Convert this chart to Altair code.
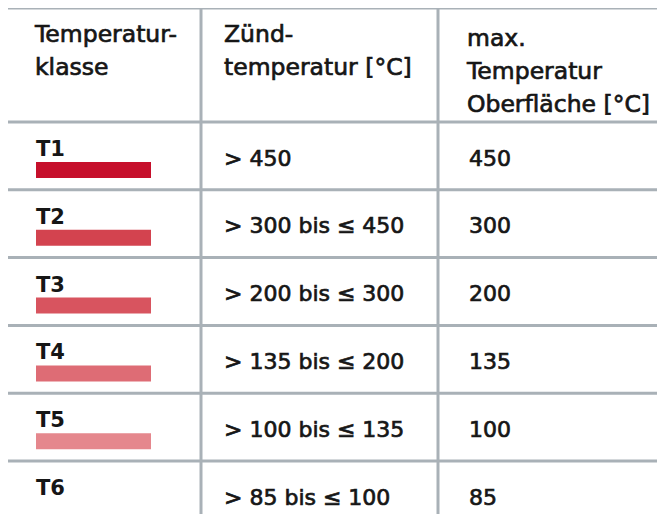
import altair as alt
import pandas as pd

# ---- table content ----
classes = ["T1", "T2", "T3", "T4", "T5", "T6"]
ignition = ["> 450", "> 300 bis ≤ 450", "> 200 bis ≤ 300", "> 135 bis ≤ 200",
            "> 100 bis ≤ 135", "> 85 bis ≤ 100"]
max_surface = ["450", "300", "200", "135", "100", "85"]
bar_colors = ["#c60f2b", "#d3434f", "#d8545f", "#de6c75", "#e5878d", None]

header_col1 = ["Temperatur-", "klasse"]
header_col2 = ["Zünd-", "temperatur [°C]"]
header_col3 = ["max.", "Temperatur", "Oberfläche [°C]"]

# ---- layout (pixel positions in page coordinates) ----
W, H = 649, 506
LINE_COLOR = "#a9b1b7"
TEXT_COLOR = "#161616"
FONT = "DejaVu Sans"
top_y = 8
header_bottom = 122
row_h = 67.8
col_left = [36, 224, 469]
v_lines = [201, 438]

row_tops = [header_bottom + i * row_h for i in range(len(classes))]

xs = alt.Scale(domain=[8, 8 + W], range=[0, W], nice=False, zero=False)
ys = alt.Scale(domain=[8, 8 + H], range=[0, H], nice=False, zero=False)

# grid lines
h_df = pd.DataFrame({"y": [top_y] + row_tops, "x": 8, "x2": 8 + W})
v_df = pd.DataFrame({"x": v_lines, "y": top_y, "y2": 8 + H})

h_rules = alt.Chart(h_df).mark_rule(color=LINE_COLOR, strokeWidth=3).encode(
    x=alt.X("x:Q", scale=xs, axis=None), x2="x2:Q",
    y=alt.Y("y:Q", scale=ys, axis=None))
v_rules = alt.Chart(v_df).mark_rule(color=LINE_COLOR, strokeWidth=3).encode(
    x=alt.X("x:Q", scale=xs, axis=None),
    y=alt.Y("y:Q", scale=ys, axis=None), y2="y2:Q")

# header text
hdr = []
for i, t in enumerate(header_col1):
    hdr.append({"text": t, "x": col_left[0] - 1, "y": 42 + 33 * i})
for i, t in enumerate(header_col2):
    hdr.append({"text": t, "x": col_left[1], "y": 42 + 33 * i})
for i, t in enumerate(header_col3):
    hdr.append({"text": t, "x": col_left[2] - 2, "y": 46 + 33 * i})
hdr_df = pd.DataFrame(hdr)
hdr_text = alt.Chart(hdr_df).mark_text(
    align="left", baseline="alphabetic", font=FONT, fontSize=23.5,
    color=TEXT_COLOR, stroke=TEXT_COLOR, strokeWidth=0.7).encode(
    x=alt.X("x:Q", scale=xs, axis=None),
    y=alt.Y("y:Q", scale=ys, axis=None), text="text:N")

# body
body = pd.DataFrame({
    "cls": classes, "ign": ignition, "mx": max_surface,
    "color": [c if c else "#ffffff" for c in bar_colors],
    "has_bar": [c is not None for c in bar_colors],
    "top": row_tops,
})
body["label_y"] = body["top"] + 34
body["val_y"] = body["top"] + 43.5
body["bar_y"] = body["top"] + 40
body["bar_y2"] = body["top"] + 56
body["lx"] = col_left[0]
body["bar_x2"] = 151
body["c2x"] = col_left[1]
body["c3x"] = col_left[2]

cls_text = alt.Chart(body).mark_text(
    align="left", baseline="alphabetic", font=FONT, fontSize=21,
    fontWeight="bold", color=TEXT_COLOR).encode(
    x=alt.X("lx:Q", scale=xs, axis=None),
    y=alt.Y("label_y:Q", scale=ys, axis=None), text="cls:N")

bars = alt.Chart(body).transform_filter("datum.has_bar").mark_rect().encode(
    x=alt.X("lx:Q", scale=xs, axis=None), x2="bar_x2:Q",
    y=alt.Y("bar_y:Q", scale=ys, axis=None), y2="bar_y2:Q",
    color=alt.Color("color:N", scale=None))

ign_text = alt.Chart(body).mark_text(
    align="left", baseline="alphabetic", font=FONT, fontSize=22,
    color=TEXT_COLOR, stroke=TEXT_COLOR, strokeWidth=0.7).encode(
    x=alt.X("c2x:Q", scale=xs, axis=None),
    y=alt.Y("val_y:Q", scale=ys, axis=None), text="ign:N")

mx_text = alt.Chart(body).mark_text(
    align="left", baseline="alphabetic", font=FONT, fontSize=22,
    color=TEXT_COLOR, stroke=TEXT_COLOR, strokeWidth=0.7).encode(
    x=alt.X("c3x:Q", scale=xs, axis=None),
    y=alt.Y("val_y:Q", scale=ys, axis=None), text="mx:N")

chart = alt.layer(h_rules, v_rules, bars, hdr_text, cls_text, ign_text, mx_text).properties(
    width=W, height=H, padding=0, autosize=alt.AutoSizeParams(type="none"),
    background="white"
).configure_view(stroke=None)

chart.save("out.html", embed_options={"renderer": "svg", "actions": False})
